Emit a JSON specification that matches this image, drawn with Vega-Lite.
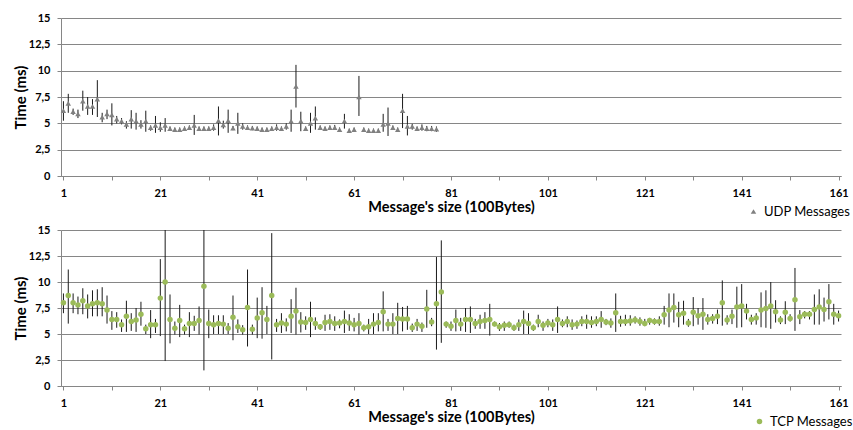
{
"$schema": "https://vega.github.io/schema/vega-lite/v6.json",
"autosize": {"type": "pad"},
"padding": {"left": 13, "top": 12, "right": 0, "bottom": 4},
"background": "white",
"spacing": 54,
"bounds": "flush",
"datasets": {
"udp": [
{"n":1,"t":6.2,"lo":5.25,"hi":7.1},{"n":2,"t":6.9,"lo":6.0,"hi":7.8},{"n":3,"t":6.1,"lo":5.8,"hi":6.4},{"n":4,"t":5.9,"lo":5.5,"hi":6.3},{"n":5,"t":7.1,"lo":6.2,"hi":8.1},{"n":6,"t":6.6,"lo":5.8,"hi":7.5},{"n":7,"t":6.6,"lo":5.8,"hi":7.3},{"n":8,"t":7.3,"lo":5.6,"hi":9.1},{"n":9,"t":5.6,"lo":5.1,"hi":6.0},{"n":10,"t":5.9,"lo":5.4,"hi":6.3},
{"n":11,"t":5.8,"lo":4.8,"hi":6.9},{"n":12,"t":5.4,"lo":5.0,"hi":5.7},{"n":13,"t":5.2,"lo":4.9,"hi":5.5},{"n":14,"t":4.9,"lo":4.5,"hi":5.2},{"n":15,"t":5.4,"lo":4.5,"hi":6.25},{"n":16,"t":5.2,"lo":4.4,"hi":6.0},{"n":17,"t":4.9,"lo":4.5,"hi":5.3},{"n":18,"t":5.2,"lo":4.2,"hi":6.2},{"n":19,"t":4.6,"lo":4.3,"hi":4.8},{"n":20,"t":4.8,"lo":4.1,"hi":5.7},
{"n":21,"t":4.6,"lo":4.2,"hi":5.1},{"n":22,"t":4.8,"lo":4.2,"hi":5.5},{"n":23,"t":4.5,"lo":4.3,"hi":4.7},{"n":24,"t":4.4,"lo":4.2,"hi":4.6},{"n":25,"t":4.4,"lo":4.2,"hi":4.6},{"n":26,"t":4.5,"lo":4.3,"hi":4.7},{"n":27,"t":4.6,"lo":4.4,"hi":4.8},{"n":28,"t":4.8,"lo":3.9,"hi":5.8},{"n":29,"t":4.5,"lo":4.3,"hi":4.7},{"n":30,"t":4.5,"lo":4.3,"hi":4.7},
{"n":31,"t":4.5,"lo":4.3,"hi":4.7},{"n":32,"t":4.6,"lo":4.3,"hi":4.9},{"n":33,"t":5.25,"lo":3.85,"hi":6.6},{"n":34,"t":4.85,"lo":4.5,"hi":5.25},{"n":35,"t":5.25,"lo":4.1,"hi":6.3},{"n":36,"t":4.55,"lo":4.35,"hi":4.75},{"n":37,"t":5.0,"lo":4.0,"hi":6.0},{"n":38,"t":4.7,"lo":4.4,"hi":5.0},{"n":39,"t":4.6,"lo":4.4,"hi":4.8},{"n":40,"t":4.55,"lo":4.35,"hi":4.75},
{"n":41,"t":4.5,"lo":4.3,"hi":4.7},{"n":42,"t":4.4,"lo":4.2,"hi":4.6},{"n":43,"t":4.4,"lo":4.2,"hi":4.6},{"n":44,"t":4.5,"lo":4.3,"hi":4.7},{"n":45,"t":4.6,"lo":4.3,"hi":4.9},{"n":46,"t":4.5,"lo":4.3,"hi":4.7},{"n":47,"t":4.7,"lo":4.4,"hi":5.0},{"n":48,"t":5.2,"lo":4.2,"hi":6.3},{"n":49,"t":8.5,"lo":6.5,"hi":10.55},{"n":50,"t":5.2,"lo":4.25,"hi":6.1},
{"n":51,"t":4.5,"lo":4.3,"hi":4.7},{"n":52,"t":5.0,"lo":4.1,"hi":6.0},{"n":53,"t":5.5,"lo":4.4,"hi":6.6},{"n":54,"t":4.6,"lo":4.4,"hi":4.8},{"n":55,"t":4.5,"lo":4.3,"hi":4.7},{"n":56,"t":4.6,"lo":4.4,"hi":4.8},{"n":57,"t":4.6,"lo":4.4,"hi":4.85},{"n":58,"t":4.4,"lo":4.2,"hi":4.6},{"n":59,"t":5.2,"lo":4.5,"hi":5.9},{"n":60,"t":4.3,"lo":4.1,"hi":4.5},
{"n":61,"t":4.4,"lo":4.2,"hi":4.6},{"n":62,"t":7.5,"lo":5.7,"hi":9.5},{"n":63,"t":4.4,"lo":4.2,"hi":4.6},{"n":64,"t":4.3,"lo":4.1,"hi":4.5},{"n":65,"t":4.3,"lo":4.1,"hi":4.5},{"n":66,"t":4.3,"lo":4.1,"hi":4.5},{"n":67,"t":4.9,"lo":4.2,"hi":5.9},{"n":68,"t":5.0,"lo":3.8,"hi":6.5},{"n":69,"t":4.6,"lo":4.4,"hi":4.8},{"n":70,"t":4.4,"lo":4.2,"hi":4.6},
{"n":71,"t":6.2,"lo":4.55,"hi":7.8},{"n":72,"t":4.7,"lo":3.85,"hi":5.7},{"n":73,"t":4.7,"lo":4.4,"hi":4.95},{"n":74,"t":4.5,"lo":4.3,"hi":4.7},{"n":75,"t":4.6,"lo":4.3,"hi":4.9},{"n":76,"t":4.5,"lo":4.25,"hi":4.75},{"n":77,"t":4.5,"lo":4.25,"hi":4.75},{"n":78,"t":4.45,"lo":4.2,"hi":4.7}
],
"tcp": [
{"n":1,"t":8.0,"lo":7.0,"hi":8.9},{"n":2,"t":8.7,"lo":6.0,"hi":11.2},{"n":3,"t":8.0,"lo":7.0,"hi":8.9},{"n":4,"t":7.8,"lo":6.9,"hi":8.6},{"n":5,"t":8.2,"lo":6.9,"hi":9.4},{"n":6,"t":7.7,"lo":6.5,"hi":8.8},{"n":7,"t":7.9,"lo":6.7,"hi":9.2},{"n":8,"t":8.0,"lo":6.7,"hi":9.3},{"n":9,"t":7.9,"lo":6.7,"hi":9.5},{"n":10,"t":7.3,"lo":6.0,"hi":8.7},
{"n":11,"t":6.4,"lo":5.4,"hi":7.2},{"n":12,"t":6.4,"lo":5.6,"hi":7.1},{"n":13,"t":5.9,"lo":5.2,"hi":6.4},{"n":14,"t":6.7,"lo":5.2,"hi":8.2},{"n":15,"t":6.2,"lo":5.3,"hi":7.0},{"n":16,"t":6.35,"lo":5.2,"hi":7.5},{"n":17,"t":6.9,"lo":5.8,"hi":8.1},{"n":18,"t":5.5,"lo":5.0,"hi":5.9},{"n":19,"t":5.9,"lo":4.6,"hi":7.3},{"n":20,"t":5.9,"lo":5.1,"hi":6.45},
{"n":21,"t":8.45,"lo":4.8,"hi":12.2},{"n":22,"t":10.0,"lo":2.4,"hi":15},{"n":23,"t":6.4,"lo":4.1,"hi":8.8},{"n":24,"t":5.55,"lo":4.95,"hi":6.2},{"n":25,"t":6.3,"lo":4.7,"hi":7.8},{"n":26,"t":5.5,"lo":4.95,"hi":5.9},{"n":27,"t":6.0,"lo":4.7,"hi":7.1},{"n":28,"t":6.0,"lo":5.3,"hi":6.75},{"n":29,"t":6.3,"lo":4.95,"hi":7.65},{"n":30,"t":9.6,"lo":1.5,"hi":15},
{"n":31,"t":6.0,"lo":4.6,"hi":7.35},{"n":32,"t":5.9,"lo":5.0,"hi":6.8},{"n":33,"t":6.0,"lo":5.0,"hi":6.8},{"n":34,"t":5.95,"lo":5.0,"hi":6.8},{"n":35,"t":5.55,"lo":5.0,"hi":6.05},{"n":36,"t":6.6,"lo":4.4,"hi":8.7},{"n":37,"t":5.7,"lo":5.1,"hi":6.4},{"n":38,"t":5.4,"lo":4.95,"hi":5.85},{"n":39,"t":7.55,"lo":3.8,"hi":11.2},{"n":40,"t":5.45,"lo":4.95,"hi":5.9},
{"n":41,"t":6.55,"lo":4.6,"hi":8.5},{"n":42,"t":7.05,"lo":4.55,"hi":9.5},{"n":43,"t":6.4,"lo":5.0,"hi":7.7},{"n":44,"t":8.7,"lo":2.55,"hi":14.7},{"n":45,"t":5.9,"lo":5.2,"hi":6.45},{"n":46,"t":6.05,"lo":5.1,"hi":7.0},{"n":47,"t":5.95,"lo":5.25,"hi":6.5},{"n":48,"t":6.7,"lo":5.1,"hi":8.35},{"n":49,"t":7.2,"lo":4.95,"hi":9.45},{"n":50,"t":6.15,"lo":5.15,"hi":7.1},
{"n":51,"t":6.1,"lo":5.4,"hi":6.7},{"n":52,"t":6.4,"lo":4.7,"hi":8.1},{"n":53,"t":6.0,"lo":5.4,"hi":6.6},{"n":54,"t":5.7,"lo":5.4,"hi":5.95},{"n":55,"t":6.1,"lo":5.3,"hi":6.85},{"n":56,"t":6.2,"lo":5.4,"hi":6.9},{"n":57,"t":6.0,"lo":5.3,"hi":6.7},{"n":58,"t":6.05,"lo":5.55,"hi":6.4},{"n":59,"t":6.2,"lo":5.1,"hi":7.25},{"n":60,"t":6.05,"lo":5.3,"hi":6.9},
{"n":61,"t":5.9,"lo":5.25,"hi":6.55},{"n":62,"t":6.0,"lo":4.95,"hi":7.0},{"n":63,"t":5.6,"lo":5.25,"hi":5.9},{"n":64,"t":5.7,"lo":5.0,"hi":6.45},{"n":65,"t":5.95,"lo":5.0,"hi":7.0},{"n":66,"t":6.1,"lo":5.25,"hi":7.0},{"n":67,"t":7.15,"lo":5.25,"hi":9.1},{"n":68,"t":5.95,"lo":5.3,"hi":6.45},{"n":69,"t":5.95,"lo":5.0,"hi":7.0},{"n":70,"t":6.5,"lo":5.0,"hi":8.0},
{"n":71,"t":6.45,"lo":5.25,"hi":7.6},{"n":72,"t":6.45,"lo":5.4,"hi":7.7},{"n":73,"t":5.6,"lo":5.2,"hi":6.0},{"n":74,"t":5.95,"lo":5.3,"hi":6.45},{"n":75,"t":5.75,"lo":5.2,"hi":6.1},{"n":76,"t":7.4,"lo":5.6,"hi":9.25},{"n":77,"t":6.15,"lo":5.75,"hi":6.55},{"n":78,"t":7.9,"lo":3.5,"hi":12.4},{"n":79,"t":9.05,"lo":4.15,"hi":14.0},{"n":80,"t":5.95,"lo":5.6,"hi":6.2},
{"n":81,"t":5.75,"lo":5.3,"hi":6.2},{"n":82,"t":6.3,"lo":5.25,"hi":7.35},{"n":83,"t":5.95,"lo":5.3,"hi":6.55},{"n":84,"t":6.4,"lo":5.2,"hi":7.5},{"n":85,"t":6.4,"lo":5.1,"hi":7.65},{"n":86,"t":6.0,"lo":5.5,"hi":6.45},{"n":87,"t":6.2,"lo":5.5,"hi":6.85},{"n":88,"t":6.3,"lo":5.5,"hi":7.1},{"n":89,"t":6.4,"lo":4.85,"hi":7.9},{"n":90,"t":5.95,"lo":5.75,"hi":6.2},
{"n":91,"t":5.7,"lo":5.3,"hi":6.05},{"n":92,"t":5.85,"lo":5.3,"hi":6.2},{"n":93,"t":5.9,"lo":5.6,"hi":6.2},{"n":94,"t":5.6,"lo":5.3,"hi":5.9},{"n":95,"t":5.9,"lo":5.3,"hi":6.4},{"n":96,"t":6.2,"lo":5.0,"hi":7.25},{"n":97,"t":6.0,"lo":5.0,"hi":7.0},{"n":98,"t":5.6,"lo":5.3,"hi":5.9},{"n":99,"t":6.2,"lo":5.65,"hi":6.85},{"n":100,"t":5.85,"lo":5.3,"hi":6.2},
{"n":101,"t":6.05,"lo":5.65,"hi":6.45},{"n":102,"t":5.9,"lo":5.3,"hi":6.4},{"n":103,"t":6.4,"lo":5.1,"hi":7.65},{"n":104,"t":6.0,"lo":5.65,"hi":6.4},{"n":105,"t":6.2,"lo":5.65,"hi":6.7},{"n":106,"t":5.9,"lo":5.4,"hi":6.4},{"n":107,"t":5.95,"lo":5.5,"hi":6.3},{"n":108,"t":6.2,"lo":5.75,"hi":6.7},{"n":109,"t":6.2,"lo":5.5,"hi":6.85},{"n":110,"t":6.1,"lo":5.6,"hi":6.7},
{"n":111,"t":6.2,"lo":5.75,"hi":6.7},{"n":112,"t":6.4,"lo":5.6,"hi":7.2},{"n":113,"t":6.15,"lo":5.85,"hi":6.45},{"n":114,"t":6.05,"lo":5.6,"hi":6.5},{"n":115,"t":7.05,"lo":5.2,"hi":8.9},{"n":116,"t":6.2,"lo":5.7,"hi":6.75},{"n":117,"t":6.2,"lo":5.8,"hi":6.85},{"n":118,"t":6.25,"lo":5.8,"hi":6.8},{"n":119,"t":6.35,"lo":6.0,"hi":6.7},{"n":120,"t":6.2,"lo":5.8,"hi":6.6},
{"n":121,"t":6.0,"lo":5.75,"hi":6.45},{"n":122,"t":6.3,"lo":5.9,"hi":6.55},{"n":123,"t":6.2,"lo":5.9,"hi":6.5},{"n":124,"t":6.2,"lo":5.8,"hi":6.7},{"n":125,"t":6.85,"lo":5.9,"hi":7.7},{"n":126,"t":7.3,"lo":5.65,"hi":8.9},{"n":127,"t":7.55,"lo":6.1,"hi":8.9},{"n":128,"t":6.85,"lo":5.65,"hi":8.1},{"n":129,"t":7.0,"lo":5.9,"hi":8.2},{"n":130,"t":6.05,"lo":5.7,"hi":6.45},
{"n":131,"t":7.1,"lo":5.75,"hi":8.55},{"n":132,"t":6.75,"lo":5.9,"hi":7.5},{"n":133,"t":6.9,"lo":5.4,"hi":8.45},{"n":134,"t":6.4,"lo":5.9,"hi":6.9},{"n":135,"t":6.5,"lo":6.0,"hi":6.9},{"n":136,"t":6.7,"lo":5.95,"hi":7.35},{"n":137,"t":8.0,"lo":5.8,"hi":10.15},{"n":138,"t":6.35,"lo":5.9,"hi":6.8},{"n":139,"t":6.7,"lo":5.95,"hi":7.35},{"n":140,"t":7.6,"lo":5.6,"hi":9.55},
{"n":141,"t":7.7,"lo":5.65,"hi":9.8},{"n":142,"t":7.2,"lo":6.4,"hi":7.9},{"n":143,"t":6.4,"lo":5.9,"hi":6.85},{"n":144,"t":6.55,"lo":5.9,"hi":7.0},{"n":145,"t":7.3,"lo":5.65,"hi":9.0},{"n":146,"t":7.45,"lo":5.6,"hi":9.2},{"n":147,"t":7.7,"lo":5.5,"hi":10.0},{"n":148,"t":7.15,"lo":6.1,"hi":8.25},{"n":149,"t":6.35,"lo":5.95,"hi":6.7},{"n":150,"t":7.1,"lo":5.95,"hi":8.15},
{"n":151,"t":6.5,"lo":6.2,"hi":6.9},{"n":152,"t":8.3,"lo":5.3,"hi":11.35},{"n":153,"t":6.65,"lo":5.95,"hi":7.3},{"n":154,"t":6.9,"lo":6.5,"hi":7.2},{"n":155,"t":6.9,"lo":6.4,"hi":7.2},{"n":156,"t":7.35,"lo":5.9,"hi":8.8},{"n":157,"t":7.6,"lo":5.9,"hi":9.3},{"n":158,"t":7.35,"lo":6.2,"hi":8.5},{"n":159,"t":8.1,"lo":6.4,"hi":9.8},{"n":160,"t":6.9,"lo":5.9,"hi":7.9},
{"n":161,"t":6.75,"lo":6.2,"hi":7.25}
]
},
"config": {
"view": {"stroke": null},
"font": "Lato",
"axis": {"labelFont": "Lato", "labelFontWeight": "bold", "labelFontSize": 11, "labelColor": "#000000", "titleFont": "Lato", "titleColor": "#000000", "domainColor": "#868686", "tickColor": "#868686", "gridColor": "#868686", "tickSize": 4}
},
"resolve": {"scale": {"color": "independent", "shape": "independent"}, "legend": {"color": "independent", "shape": "independent"}},
"vconcat": [
{
"width": 780, "height": 158,
"data": {"name": "udp"},
"layer": [
{"mark": {"type": "rule", "color": "#1a1a1a", "strokeWidth": 1, "clip": true},
 "encoding": {
  "x": {"field": "n", "type": "quantitative", "scale": {"domain": [0.5, 161.5], "nice": false, "zero": false},
        "axis": {"grid": false, "values": [1,11,21,31,41,51,61,71,81,91,101,111,121,131,141,151,161], "tickCount": 20, "labelExpr": "(datum.value - 1) % 20 == 0 ? datum.label : ''", "labelPadding": 7, "title": "Message's size (100Bytes)", "titleFontSize": 14.5, "titleFontWeight": "bold", "titlePadding": 2}},
  "y": {"field": "lo", "type": "quantitative", "scale": {"domain": [0, 15], "nice": false},
        "axis": {"values": [0,2.5,5,7.5,10,12.5,15], "tickCount": 7, "labelExpr": "replace(format(datum.value, '.1~f'), '.', ',')", "labelPadding": 7, "title": "Time (ms)", "titleFontSize": 15, "titleFontWeight": "bold", "titlePadding": 0}},
  "y2": {"field": "hi"}
 }},
{"mark": {"type": "point", "filled": true, "opacity": 1},
 "encoding": {
  "x": {"field": "n", "type": "quantitative"},
  "y": {"field": "t", "type": "quantitative"},
  "color": {"datum": "UDP Messages", "type": "nominal", "scale": {"range": ["#808080"]},
            "legend": {"orient": "none", "legendX": 686, "legendY": 187, "title": null, "labelFont": "Lato", "labelFontSize": 13, "labelColor": "#000000", "symbolSize": 30, "padding": 0}},
  "shape": {"datum": "UDP Messages", "type": "nominal", "scale": {"range": ["triangle-up"]}},
  "size": {"value": 30}
 }}
]
},
{
"width": 780, "height": 156,
"data": {"name": "tcp"},
"layer": [
{"mark": {"type": "rule", "color": "#1a1a1a", "strokeWidth": 1, "clip": true},
 "encoding": {
  "x": {"field": "n", "type": "quantitative", "scale": {"domain": [0.5, 161.5], "nice": false, "zero": false},
        "axis": {"grid": false, "values": [1,11,21,31,41,51,61,71,81,91,101,111,121,131,141,151,161], "tickCount": 20, "labelExpr": "(datum.value - 1) % 20 == 0 ? datum.label : ''", "labelPadding": 7, "title": "Message's size (100Bytes)", "titleFontSize": 14.5, "titleFontWeight": "bold", "titlePadding": 2}},
  "y": {"field": "lo", "type": "quantitative", "scale": {"domain": [0, 15], "nice": false},
        "axis": {"values": [0,2.5,5,7.5,10,12.5,15], "tickCount": 7, "labelExpr": "replace(format(datum.value, '.1~f'), '.', ',')", "labelPadding": 7, "title": "Time (ms)", "titleFontSize": 15, "titleFontWeight": "bold", "titlePadding": 0}},
  "y2": {"field": "hi"}
 }},
{"mark": {"type": "point", "filled": true, "opacity": 1},
 "encoding": {
  "x": {"field": "n", "type": "quantitative"},
  "y": {"field": "t", "type": "quantitative"},
  "color": {"datum": "TCP Messages", "type": "nominal", "scale": {"range": ["#9bbb59"]},
            "legend": {"orient": "none", "legendX": 692, "legendY": 185, "title": null, "labelFont": "Lato", "labelFontSize": 13, "labelColor": "#000000", "symbolSize": 30, "padding": 0}},
  "shape": {"datum": "TCP Messages", "type": "nominal", "scale": {"range": ["circle"]}},
  "size": {"value": 30}
 }}
]
}
]
}
